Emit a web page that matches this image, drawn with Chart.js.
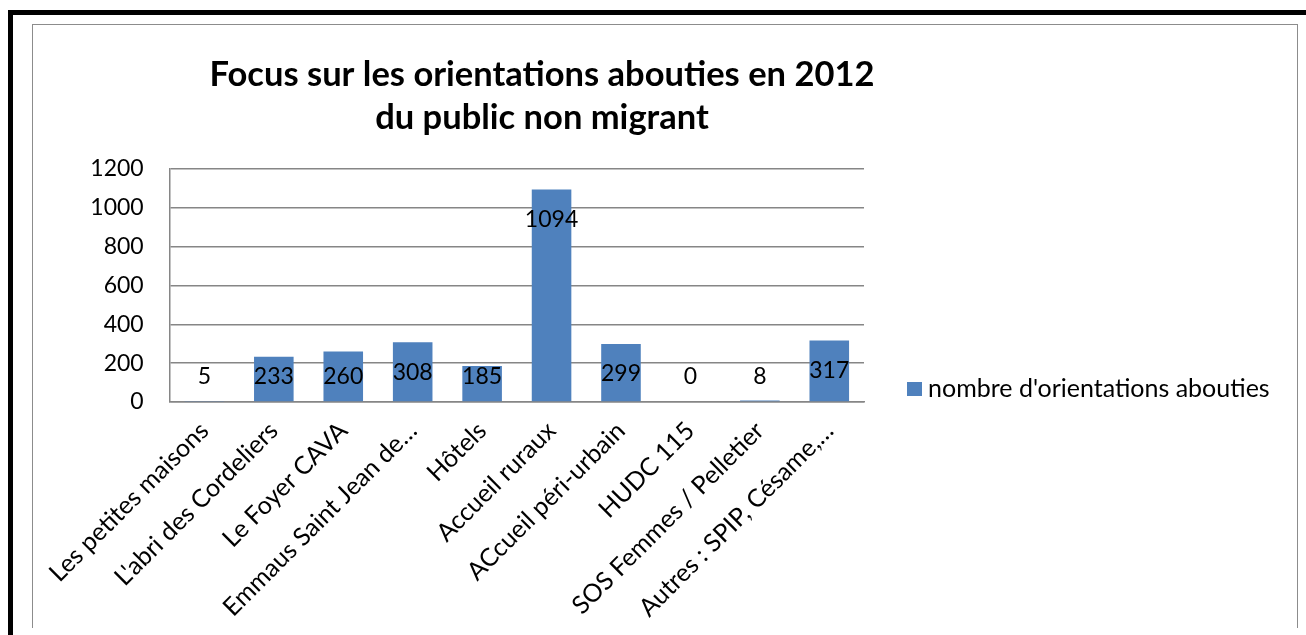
<!DOCTYPE html>
<html>
<head>
<meta charset="utf-8">
<script src="https://cdn.jsdelivr.net/npm/chart.js@4.4.1/dist/chart.umd.min.js"></script>
<style>
  html, body { margin: 0; padding: 0; background: #fff; }
  body { width: 1306px; height: 635px; position: relative; overflow: hidden; }
  #outer { position: absolute; left: 8px; top: 10px; width: 1400px; height: 700px;
           border-left: 5px solid #000; border-top: 5px solid #000; }
  #inner { position: absolute; left: 32px; top: 24px; width: 1264px; height: 603px;
           border: 1px solid #8c8c8c; border-bottom: none; }
  #wrap { position: absolute; left: 33px; top: 25px; width: 1264px; height: 602px; }
</style>
</head>
<body>
<div id="outer"></div>
<div id="inner"></div>
<div id="wrap"><canvas id="chart"></canvas></div>
<script>
// chart data
const categories = [
  'Les petites maisons',
  "L'abri des Cordeliers",
  'Le Foyer CAVA',
  'Emmaus Saint Jean de…',
  'Hôtels',
  'Accueil ruraux',
  'ACcueil péri-urbain',
  'HUDC 115',
  'SOS Femmes / Pelletier',
  'Autres : SPIP, Césame,…'
];
const orientations = [5, 233, 260, 308, 185, 1094, 299, 0, 8, 317];
const titleLines = ['Focus sur les orientations abouties en 2012', 'du public non migrant'];
const seriesName = "nombre d'orientations abouties";

const FONT = 'Lato, "Open Sans", sans-serif';
const BLUE = '#4F81BD';

// title, value labels and legend drawn by hand
const extras = {
  id: 'extras',
  afterDatasetsDraw(chart) {
    const ctx = chart.ctx;
    const area = chart.chartArea;
    ctx.save();
    ctx.fillStyle = '#000';
    ctx.font = '23px ' + FONT;
    ctx.textAlign = 'center';
    ctx.textBaseline = 'middle';
    chart.getDatasetMeta(0).data.forEach((bar, i) => {
      const y = Math.min(bar.y + 30, area.bottom - 25);
      ctx.fillText(String(orientations[i]), bar.x, y);
    });

    ctx.font = 'bold 34.5px ' + FONT;
    titleLines.forEach((t, i) => ctx.fillText(t, 509, 50 + i * 43));

    // legend
    const ly = area.bottom - 13;
    ctx.fillStyle = BLUE;
    ctx.fillRect(area.right + 43, ly - 7, 15, 14);
    ctx.fillStyle = '#000';
    ctx.textAlign = 'left';
    ctx.font = '25px ' + FONT;
    ctx.fillText(seriesName, area.right + 64, ly);
    ctx.restore();
  }
};

new Chart(document.getElementById('chart'), {
  type: 'bar',
  data: {
    labels: categories,
    datasets: [{
      label: seriesName,
      data: orientations,
      backgroundColor: BLUE,
      barPercentage: 0.57,
      categoryPercentage: 1
    }]
  },
  options: {
    responsive: true,
    maintainAspectRatio: false,
    animation: false,
    events: [],
    layout: { padding: { top: 144, right: 433, left: 0, bottom: 0 } },
    plugins: { legend: { display: false }, title: { display: false }, tooltip: { enabled: false } },
    scales: {
      x: {
        grid: { display: false, drawTicks: false },
        border: { color: '#868686', width: 1.5 },
        ticks: { color: '#000', font: { family: FONT, size: 25 }, minRotation: 45, maxRotation: 45, padding: 14, autoSkip: false },
        afterFit: s => { s.height = 225; }
      },
      y: {
        min: 0, max: 1200,
        grid: { color: '#868686', lineWidth: 1.5, drawTicks: false },
        border: { color: '#868686', width: 1.5 },
        ticks: { stepSize: 200, color: '#000', font: { family: FONT, size: 23 }, padding: 26, callback: v => String(v) },
        afterFit: s => { s.width = 136; }
      }
    }
  },
  plugins: [extras]
});
</script>
</body>
</html>
